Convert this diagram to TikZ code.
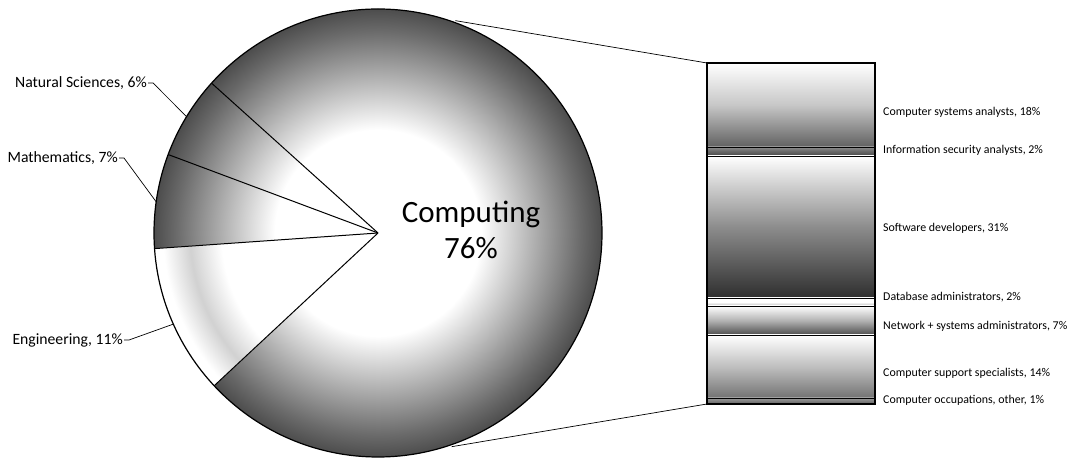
\documentclass[tikz,border=0pt]{standalone}
\usepackage{fontspec}
\setmainfont{Carlito}
\pgfdeclareradialshading{pieshade}{\pgfpointorigin}{color(0bp)=(white); color(11.5bp)=(white); color(22.5bp)=(black!58); color(25bp)=(black!70); color(50bp)=(black!70)}
\pgfdeclareradialshading{engshade}{\pgfpointorigin}{color(0bp)=(white); color(17.5bp)=(white); color(21bp)=(black!18); color(24bp)=(white); color(50bp)=(white)}
\tikzset{
	edge/.style={draw=black,line width=1pt},
	leader/.style={draw=black,line width=0.7pt},
	catlbl/.style={font=\fontsize{15.7}{18}\selectfont,anchor=east,inner sep=1pt},
	joblbl/.style={font=\fontsize{11.9}{14}\selectfont,anchor=west,inner sep=0pt},
}
\begin{document}
\begin{tikzpicture}[x=1pt,y=1pt]
	\useasboundingbox (0,0) rectangle (1070,462);
	\coordinate (c) at (378,229);
	\shade[shading=pieshade] (c) circle (224);
	\begin{scope}
		\clip (c) -- +(184:224) arc[start angle=184,end angle=223,radius=224] -- cycle;
		\fill[white] (c) circle (224);
		\shade[shading=engshade] (c) circle (224);
	\end{scope}
	\foreach \a in {138,159.5,184,223} {
		\draw[edge] (c) -- +(\a:224);
	}
	\draw[line width=1.2pt] (c) circle (224);
	\node[align=center,font=\fontsize{31}{36}\selectfont] (comp) at (471,232) {Computing\\76\%};
	\node[catlbl] (nat) at (148,379) {Natural Sciences, 6\%};
	\node[catlbl] (math) at (119,304) {Mathematics, 7\%};
	\node[catlbl] (eng) at (124,122) {Engineering, 11\%};
	\path (c) ++(148.7:224) coordinate (natp);
	\path (c) ++(172:224) coordinate (mathp);
	\path (c) ++(204:224) coordinate (engp);
	\draw[leader] (nat.east) -- ++(5,0) -- (natp);
	\draw[leader] (math.east) -- ++(5,0) -- (mathp);
	\draw[leader] (eng.east) -- ++(5,0) -- (engp);
	\foreach \ya/\yb/\ct/\cm/\cb/\txt/\ly/\nm in {
		399/315/white/black!22/black!62/{Computer systems analysts, 18\%}/350/csa,
		315/306/black!45/black!60/black!72/{Information security analysts, 2\%}/312/isa,
		306/164/white/black!45/black!82/{Software developers, 31\%}/234/sd,
		164/156/white/white/black!28/{Database administrators, 2\%}/165/dba,
		156/127/white/black!30/black!70/{Network + systems administrators, 7\%}/136/net,
		127/64/white/black!25/black!55/{Computer support specialists, 14\%}/89/css,
		64/58/black!40/black!50/black!62/{Computer occupations, other, 1\%}/62/other} {
		\shade[top color=\ct,bottom color=\cb,middle color=\cm] (707,\ya) rectangle (875,\yb);
		\draw[line width=0.9pt] (707,\ya) rectangle (875,\yb);
		\node[joblbl] (\nm) at (883,\ly) {\txt};
	}
	\draw[line width=1.3pt] (707,58) rectangle (875,399);
	\coordinate (bartop) at (707,399);
	\coordinate (barbot) at (707,58);
	\path (c) ++(70:226) coordinate (pietop);
	\path (c) ++(-71:226) coordinate (piebot);
	\draw[leader] (pietop) -- (bartop);
	\draw[leader] (piebot) -- (barbot);
\end{tikzpicture}
\end{document}
